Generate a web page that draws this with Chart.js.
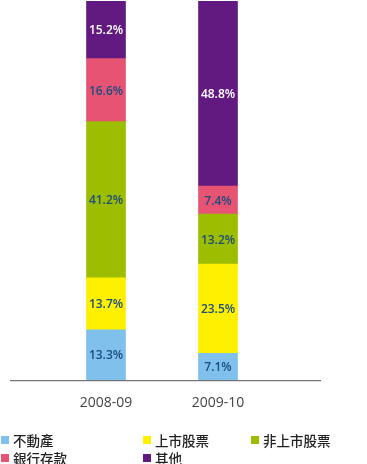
<!DOCTYPE html>
<html>
<head>
<meta charset="utf-8">
<script src="https://cdn.jsdelivr.net/npm/chart.js@4/dist/chart.umd.min.js"></script>
<style>
  body { margin: 0; background: #fff; }
  #wrap { position: relative; width: 367px; height: 464px; }
  #legend {
    position: absolute; left: 1px; top: 431px;
    display: grid; grid-template-columns: 142px 108px auto; grid-auto-rows: 18px;
    font: 500 13.5px "Noto Sans CJK TC", sans-serif; color: #222;
  }
  #legend span { display: flex; align-items: center; white-space: nowrap; }
  #legend i { display: inline-block; width: 8px; height: 8px; margin-right: 4px; }
</style>
</head>
<body>
<div id="wrap">
  <canvas id="chart" width="367" height="464"></canvas>
  <div id="legend"></div>
</div>
<script>
const categories = ['2008-09', '2009-10'];
const seriesNames = ['不動產', '上市股票', '非上市股票', '銀行存款', '其他'];
const realEstate = [13.3, 7.1];
const listedShares = [13.7, 23.5];
const unlistedShares = [41.2, 13.2];
const bankDeposits = [16.6, 7.4];
const others = [15.2, 48.8];
const seriesColors = ['#80c0ec', '#fff000', '#9dbd00', '#e75473', '#621a80'];
const labelColors = ['#1c4d80', '#1c4d80', '#1c4d80', '#1c4d80', '#ffffff'];

const seriesValues = [realEstate, listedShares, unlistedShares, bankDeposits, others];

// value labels in the middle of each segment
const segmentLabels = {
  id: 'segmentLabels',
  afterDatasetsDraw(chart) {
    const ctx = chart.ctx;
    ctx.save();
    ctx.font = '600 12px "Open Sans", sans-serif';
    ctx.textAlign = 'center';
    ctx.textBaseline = 'middle';
    chart.data.datasets.forEach((ds, i) => {
      chart.getDatasetMeta(i).data.forEach((bar, j) => {
        ctx.fillStyle = labelColors[i];
        ctx.fillText(ds.data[j].toFixed(1) + '%', bar.x, (bar.y + bar.base) / 2 + 1);
      });
    });
    ctx.restore();
  }
};

// baseline runs wider than the plot area
const baseLine = {
  id: 'baseLine',
  afterDraw(chart) {
    const ctx = chart.ctx;
    const y = chart.scales.y.getPixelForValue(0) + 0.5;
    ctx.save();
    ctx.strokeStyle = '#555';
    ctx.lineWidth = 1;
    ctx.beginPath();
    ctx.moveTo(10, y);
    ctx.lineTo(321, y);
    ctx.stroke();
    ctx.restore();
  }
};

new Chart(document.getElementById('chart'), {
  type: 'bar',
  data: {
    labels: categories,
    datasets: seriesNames.map((name, i) => ({
      label: name,
      data: seriesValues[i],
      backgroundColor: seriesColors[i],
      barThickness: 39
    }))
  },
  options: {
    responsive: false,
    animation: false,
    layout: { padding: { left: 50, right: 93, top: 1, bottom: 39 } },
    plugins: { legend: { display: false }, tooltip: { enabled: false } },
    scales: {
      x: {
        stacked: true,
        grid: { display: false, drawTicks: false },
        border: { display: false },
        ticks: { color: '#444', padding: 14, font: { family: 'Open Sans', size: 14 } }
      },
      y: { stacked: true, display: false, min: 0, max: 100 }
    }
  },
  plugins: [segmentLabels, baseLine]
});

const legend = document.getElementById('legend');
seriesNames.forEach((name, i) => {
  const item = document.createElement('span');
  item.innerHTML = '<i style="background:' + seriesColors[i] + '"></i>' + name;
  legend.appendChild(item);
});
</script>
</body>
</html>
